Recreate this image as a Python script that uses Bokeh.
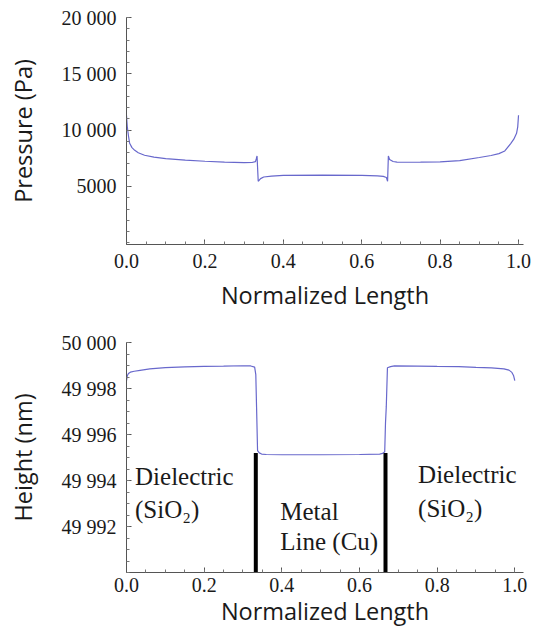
from bokeh.plotting import figure
from bokeh.layouts import column
from bokeh.models import FixedTicker, CustomJSTickFormatter, ColumnDataSource, Range1d
from bokeh.core.properties import value
from bokeh.embed import file_html
from bokeh.resources import INLINE
import numpy as np

# ---- Pressure profile (top) ----
p_x = [0.0, 0.002, 0.005, 0.008, 0.014, 0.021, 0.03, 0.046, 0.07, 0.1, 0.15, 0.2, 0.25, 0.3,
       0.32, 0.329, 0.331, 0.333, 0.336, 0.342, 0.35, 0.37, 0.4, 0.5, 0.6, 0.64, 0.655, 0.663,
       0.666, 0.668, 0.671, 0.68, 0.69, 0.7, 0.75, 0.8, 0.85, 0.9, 0.93, 0.95, 0.965, 0.98,
       0.988, 0.995, 0.998, 1.0]
p_y = [11300, 10300, 9500, 8840, 8450, 8210, 8000, 7770, 7600, 7480, 7340, 7240, 7170, 7120,
       7130, 7200, 7450, 7710, 5460, 5700, 5840, 5920, 5990, 6000, 5990, 5950, 5900, 5800,
       5460, 7710, 7400, 7220, 7170, 7150, 7160, 7180, 7300, 7570, 7750, 7920, 8150, 8810,
       9200, 9720, 10300, 11320]

# ---- Height profile (bottom) ----
h_x = [0.0, 0.002, 0.005, 0.01, 0.02, 0.035, 0.06, 0.1, 0.15, 0.2, 0.25, 0.3, 0.32, 0.33,
       0.333, 0.335, 0.3375, 0.342, 0.348, 0.36, 0.4, 0.5, 0.6, 0.652, 0.66, 0.665, 0.667,
       0.669, 0.672, 0.68, 0.69, 0.75, 0.8, 0.856, 0.9, 0.94, 0.972, 0.985, 0.9925, 0.997, 1.0]
h_y = [49998.34, 49998.55, 49998.65, 49998.71, 49998.75, 49998.79, 49998.85, 49998.91,
       49998.94, 49998.96, 49998.97, 49998.99, 49998.98, 49998.93, 49998.6, 49997.16,
       49995.3, 49995.2, 49995.15, 49995.13, 49995.12, 49995.12, 49995.13, 49995.15,
       49995.18, 49995.25, 49996.5, 49997.2, 49998.9, 49998.95, 49998.98, 49998.97,
       49998.96, 49998.95, 49998.92, 49998.9, 49998.85, 49998.8, 49998.7, 49998.55, 49998.34]

# metal line edges
edge_x = [0.333, 0.667]
edge_top = [49995.2, 49995.2]
edge_bottom = [49990, 49990]

# region labels
lab_text = ["Dielectric", "(SiO\u2082)", "Metal", "Line (Cu)", "Dielectric", "(SiO\u2082)"]
lab_x = [0.022, 0.022, 0.396, 0.396, 0.751, 0.751]
lab_y = [49994.19, 49992.75, 49992.66, 49991.35, 49994.28, 49992.79]

p_ticks = [5000, 10000, 15000, 20000]
h_ticks = [49992, 49994, 49996, 49998, 50000]
x_ticks = [0.0, 0.2, 0.4, 0.6, 0.8, 1.0]

LINE = "#6868cc"
SERIF = "Liberation Serif"
SANS = "Open Sans"

num_fmt = CustomJSTickFormatter(code="""
var s = Math.round(tick).toString();
if (s.length > 4) { s = s.slice(0, s.length - 3) + ' ' + s.slice(-3); }
return s;
""")
x_fmt = CustomJSTickFormatter(code="return tick.toFixed(1);")


def style(p, yticks, yminor):
    p.outline_line_color = None
    p.xgrid.visible = False
    p.ygrid.visible = False
    p.xaxis.ticker = FixedTicker(ticks=x_ticks, minor_ticks=list(np.arange(0, 1.0001, 0.05)))
    p.yaxis.ticker = FixedTicker(ticks=yticks, minor_ticks=yminor)
    p.xaxis.formatter = x_fmt
    p.yaxis.formatter = num_fmt
    for ax in (p.xaxis[0], p.yaxis[0]):
        ax.axis_line_color = "#555555"
        ax.major_tick_line_color = "#555555"
        ax.minor_tick_line_color = "#777777"
        ax.major_tick_in = 5
        ax.major_tick_out = 0
        ax.minor_tick_in = 3
        ax.minor_tick_out = 0
        ax.major_label_text_font = SERIF
        ax.major_label_text_font_size = "20px"
        ax.major_label_text_color = "#1a1a1a"
        ax.axis_label_text_font = SANS
        ax.axis_label_text_font_size = "23.5px"
        ax.axis_label_text_font_style = "normal"
        ax.axis_label_text_color = "#1a1a1a"
    p.yaxis.major_label_standoff = 10
    p.yaxis.axis_label_standoff = 20


p1 = figure(width=541, height=313, output_backend="svg", toolbar_location=None,
            x_range=Range1d(0, 1.0127), y_range=Range1d(-150, 20000),
            min_border_left=125, min_border_right=18, min_border_top=17, min_border_bottom=69,
            x_axis_label="Normalized Length", y_axis_label="Pressure (Pa)")
style(p1, p_ticks, list(range(0, 20001, 1000)))
p1.xaxis.major_label_standoff = 9
p1.xaxis.axis_label_standoff = 8
p1.line(p_x, p_y, line_color=LINE, line_width=1.2)

p2 = figure(width=541, height=316, output_backend="svg", toolbar_location=None,
            x_range=Range1d(0, 1.0224), y_range=Range1d(49990, 50000),
            min_border_left=126, min_border_right=4, min_border_top=29, min_border_bottom=57,
            x_axis_label="Normalized Length", y_axis_label="Height (nm)")
style(p2, h_ticks, list(np.arange(49990, 50000.01, 0.5)))
p2.xaxis.major_label_standoff = 5
p2.xaxis.axis_label_standoff = 0
p2.line(h_x, h_y, line_color=LINE, line_width=1.2)
p2.segment(x0=edge_x, y0=edge_bottom, x1=edge_x, y1=edge_top, line_color="black", line_width=4)
src = ColumnDataSource(dict(x=lab_x, y=lab_y, t=lab_text))
p2.text(x="x", y="y", text="t", source=src, text_font=value(SERIF), text_font_size="25px",
        text_baseline="middle", text_align="left", text_color="#1a1a1a")

layout = column(p1, p2, spacing=0)
open("out.html", "w").write(file_html(layout, INLINE))
